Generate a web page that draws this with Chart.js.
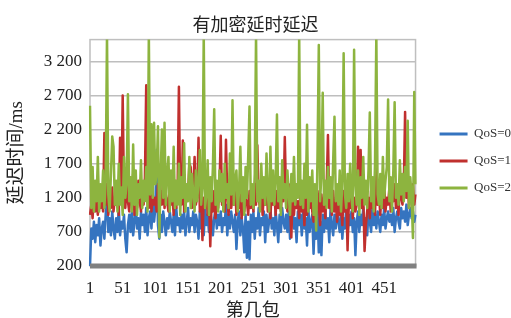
<!DOCTYPE html>
<html>
<head>
<meta charset="utf-8">
<script src="https://cdn.jsdelivr.net/npm/chart.js@4"></script>
<style>
  body { margin: 0; background: #fff; }
</style>
</head>
<body>
<canvas id="delayChart" width="511" height="318"></canvas>
<script>
  const SERIF = "'Liberation Serif', 'Noto Sans CJK SC', serif";

  // packet numbers (every second packet), x tick labels, y ticks
  const packets = Array.from({ length: 250 }, (_, i) => 1 + 2 * i);
  const xTickLabels = [1, 51, 101, 151, 201, 251, 301, 351, 401, 451];
  const yTicks = [200, 700, 1200, 1700, 2200, 2700, 3200];

  const qos0 = [
    200, 750, 600, 850, 550, 800, 650, 900, 500, 750,
    850, 600, 950, 1330, 700, 900, 650, 1000, 750, 600,
    900, 700, 1050, 650, 850, 750, 950, 600, 400, 800,
    950, 700, 1000, 650, 850, 1100, 750, 900, 600, 1000,
    800, 950, 700, 1050, 650, 900, 1000, 750, 1100, 850,
    1050, 1900, 800, 600, 950, 700, 1000, 850, 650, 900,
    750, 1000, 850, 700, 950, 650, 1050, 800, 900, 700,
    950, 750, 1000, 650, 850, 1050, 700, 900, 800, 1000,
    700, 950, 850, 600, 1000, 750, 900, 650, 1050, 800,
    950, 700, 1000, 850, 650, 900, 1050, 750, 950, 800,
    1000, 700, 900, 800, 1100, 650, 950, 750, 1000, 850,
    700, 950, 450, 850, 1000, 650, 900, 750, 400, 950,
    320, 850, 300, 950, 700, 1000, 600, 900, 750, 1050,
    650, 900, 800, 1000, 550, 950, 700, 850, 1050, 750,
    900, 650, 1000, 800, 550, 950, 700, 1050, 850, 750,
    950, 700, 1000, 600, 850, 1050, 750, 900, 550, 1000,
    800, 950, 650, 1000, 750, 900, 500, 1050, 700, 850,
    950, 380, 900, 600, 1000, 400, 850, 360, 950, 700,
    1000, 750, 900, 550, 1050, 800, 650, 950, 750, 1000,
    850, 700, 1000, 600, 900, 750, 1050, 650, 950, 800,
    1000, 700, 900, 360, 850, 1000, 700, 950, 800, 1050,
    750, 900, 650, 1000, 850, 700, 1050, 800, 950, 750,
    1000, 850, 700, 950, 800, 1050, 750, 900, 1000, 850,
    950, 800, 1050, 700, 900, 1000, 850, 750, 1050, 900,
    1000, 850, 1100, 800, 950, 1050, 900, 1000, 850, 950
  ];

  const qos1 = [
    950, 1100, 900, 1250, 1000, 1150, 950, 1300, 1050, 1200,
    1000, 2150, 1100, 1400, 950, 1250, 1050, 1350, 1000, 1200,
    1100, 1300, 950, 2080, 1150, 2700, 1250, 1050, 1400, 1150,
    1000, 1300, 1100, 1550, 950, 1250, 1050, 1450, 1150, 1000,
    1300, 1100, 1500, 2850, 1200, 1050, 1350, 1000, 1250, 1100,
    1200, 1000, 1400, 950, 1300, 1100, 1550, 1050, 1250, 1150,
    1000, 1350, 1100, 1250, 950, 1450, 1050, 1300, 2830, 1200,
    1100, 2040, 1000, 1300, 1150, 1250, 1700, 1650, 1050, 1350,
    1800, 1100, 1250, 2080, 1000, 1300, 580, 1200, 1050, 1400,
    950, 1250, 490, 1150, 1000, 1300, 900, 1200, 1050, 1350,
    2110, 1100, 1300, 1000, 2050, 1200, 950, 1350, 1050, 1250,
    1100, 1400, 950, 1300, 1050, 1250, 900, 1350, 1000, 1200,
    1150, 950, 1300, 1050, 1250, 1000, 1400, 1100, 1970, 1200,
    1050, 1300, 950, 1250, 1100, 1450, 1000, 1200, 900, 1350,
    1100, 1250, 950, 1300, 1050, 1200, 1000, 1350, 1150, 2090,
    1200, 1000, 1400, 1100, 620, 1300, 950, 1250, 1050, 1150,
    900, 1300, 1000, 1200, 800, 1350, 950, 1150, 1050, 1250,
    1000, 850, 1200, 950, 1300, 1100, 800, 1250, 1000, 1150,
    900, 1350, 2120, 1050, 1250, 950, 1300, 1000, 1150, 850,
    1200, 950, 1100, 800, 1300, 1000, 1250, 430, 1150, 1050,
    1300, 900, 1200, 1000, 1100, 1950, 1500, 1900, 1050, 1250,
    420, 800, 1000, 1200, 900, 1300, 1050, 1150, 950, 1670,
    1100, 1300, 950, 1250, 1050, 1400, 1000, 1200, 1100, 1350,
    1000, 1250, 1150, 1400, 1050, 1300, 950, 1450, 1200, 1100,
    1350, 2460, 1200, 1500, 1050, 1300, 1150, 1400, 1100, 1250
  ];

  const qos2 = [
    2550, 1050, 1650, 1000, 1450, 1150, 1800, 1000, 1400, 1150,
    1600, 1050, 1450, 3600, 1250, 1000, 1550, 2100, 1950, 1100,
    1450, 1000, 1700, 1100, 1350, 950, 1800, 1200, 1400, 2720,
    1150, 1500, 1000, 1980, 1100, 1600, 950, 1400, 1200, 1750,
    1050, 1450, 1150, 1650, 1000, 3600, 1250, 2280, 1200, 2300,
    1400, 1600, 2250, 620, 1500, 2200, 1200, 2300, 1100, 1550,
    1800, 1000, 1600, 1150, 1950, 1050, 1450, 1100, 1700, 950,
    1500, 1200, 2000, 1000, 1400, 1150, 1800, 1050, 1550, 1250,
    1000, 1600, 1150, 1450, 1900, 1100, 1350, 3600, 1050, 1250,
    1750, 950, 1500, 1150, 1650, 2500, 1100, 1450, 1000, 1600,
    1150, 1550, 1000, 1700, 1200, 1400, 1050, 1850, 1250, 2630,
    1100, 1450, 1600, 1000, 1300, 1950, 1150, 1500, 950, 1650,
    1200, 1800, 2540, 1100, 1400, 1050, 1550, 3600, 1150, 1450,
    1000, 1700, 1200, 1500, 1100, 1850, 1250, 1000, 1950, 1150,
    1600, 1100, 1450, 2420, 1150, 1500, 950, 1750, 1200, 1400,
    1050, 1600, 1250, 950, 1550, 1150, 1800, 1100, 1400, 1200,
    3600, 1100, 1450, 1050, 1700, 1200, 2270, 1000, 1500, 1150,
    1600, 950, 1400, 720, 1800, 3440, 1150, 1550, 2740, 1100,
    1450, 1050, 1650, 1200, 1500, 1000, 1750, 2390, 1150, 1400,
    1100, 1600, 1000, 1450, 3320, 1250, 1050, 1550, 1150, 1700,
    1200, 1000, 3370, 1400, 1100, 1600, 950, 1500, 1200, 1800,
    1100, 1450, 1050, 1600, 2450, 1150, 1500, 1000, 1700, 3600,
    1250, 1100, 1550, 1050, 1800, 1200, 1450, 1650, 2640, 1150,
    1500, 1000, 1600, 2600, 1200, 1400, 1100, 1750, 1250, 1550,
    1150, 1650, 1300, 2330, 1050, 1500, 1200, 610, 2750, 1400
  ];

  const plotFrame = {
    id: 'plotFrame',
    beforeDatasetsDraw(chart) {
      const { ctx, chartArea: a } = chart;
      ctx.save();
      ctx.strokeStyle = '#BFBFBF';
      ctx.lineWidth = 1.5;
      ctx.strokeRect(a.left, a.top, a.right - a.left, a.bottom - a.top);
      ctx.restore();
    },
    afterDatasetsDraw(chart) {
      // thick grey base line along the x axis
      const { ctx, chartArea: a } = chart;
      ctx.save();
      ctx.fillStyle = '#808080';
      ctx.fillRect(a.left, a.bottom - 2.5, a.right - a.left + 1, 5);
      ctx.restore();
    },
    afterLayout(chart) {
      // nudge legend to where the original sits
      const lg = chart.legend;
      lg.left += 10; lg.right += 10;
      lg.top += 2; lg.bottom += 2;
    }
  };

  const line = (label, data, color, order) => ({
    label, data, order,
    borderColor: color, backgroundColor: color,
    borderWidth: 2.5, pointRadius: 0, tension: 0,
    borderJoinStyle: 'round'
  });

  new Chart(document.getElementById('delayChart').getContext('2d'), {
    type: 'line',
    data: {
      labels: packets,
      datasets: [
        line('QoS=0', qos0, '#3574C0', 3),
        line('QoS=1', qos1, '#C0302E', 2),
        line('QoS=2', qos2, '#8DB43F', 1)
      ]
    },
    options: {
      responsive: false,
      animation: false,
      devicePixelRatio: 1,
      plugins: {
        title: {
          display: true,
          text: '有加密延时延迟',
          color: '#222',
          font: { family: SERIF, size: 18, weight: 'normal' },
          padding: { top: 15, bottom: 3 }
        },
        legend: {
          position: 'right',
          maxWidth: 96,
          labels: {
            boxWidth: 28,
            boxHeight: 3,
            padding: 14,
            color: '#333',
            font: { family: SERIF, size: 13 },
            sort: (a, b) => a.datasetIndex - b.datasetIndex,
            generateLabels: chart => Chart.defaults.plugins.legend.labels.generateLabels(chart)
              .map(l => ({ ...l, lineWidth: 0 }))
          }
        },
        tooltip: { enabled: false }
      },
      scales: {
        x: {
          afterFit: axis => { axis.height = 52; },
          grid: { display: false, drawTicks: false },
          border: { display: false },
          ticks: {
            autoSkip: false,
            maxRotation: 0,
            padding: 12,
            color: '#222',
            font: { family: SERIF, size: 17 },
            callback: (v, i) => xTickLabels.includes(packets[i]) ? String(packets[i]) : null
          },
          title: {
            display: true,
            text: '第几包',
            color: '#222',
            font: { family: SERIF, size: 18, lineHeight: 1 },
            padding: { top: 3, bottom: -2 }
          }
        },
        y: {
          min: 200,
          max: 3520,
          afterBuildTicks: axis => { axis.ticks = yTicks.map(v => ({ value: v })); },
          afterFit: axis => { axis.width = 90; },
          grid: { color: '#BEBEBE', lineWidth: 1.5, drawTicks: false },
          border: { display: false },
          ticks: {
            padding: 8,
            color: '#222',
            font: { family: SERIF, size: 17 },
            callback: v => String(v).replace(/\B(?=(\d{3})+(?!\d))/g, ' ')
          },
          title: {
            display: true,
            text: '延迟时间/ms',
            color: '#222',
            font: { family: SERIF, size: 19 },
            padding: { top: 5.6, bottom: 4 }
          }
        }
      }
    },
    plugins: [plotFrame]
  });
</script>
</body>
</html>
